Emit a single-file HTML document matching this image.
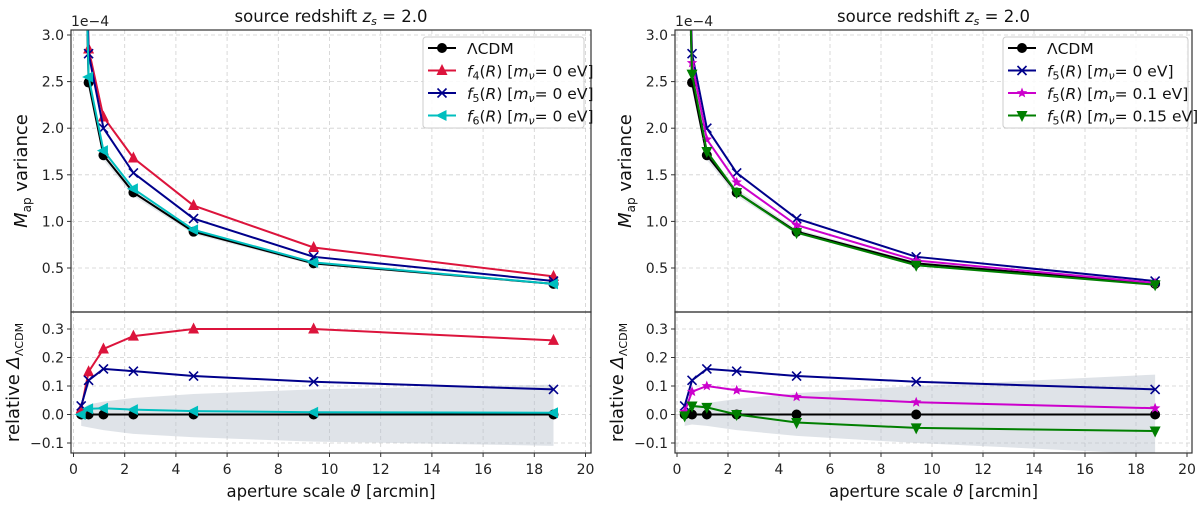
<!DOCTYPE html>
<html><head><meta charset="utf-8"><style>
body{margin:0;background:#fff;}
svg{font-family:"DejaVu Sans","Liberation Sans",sans-serif;}
</style></head><body>
<svg id="fig" width="1200" height="503" xmlns="http://www.w3.org/2000/svg"></svg>
<script>
const theta = [0.3, 0.59, 1.17, 2.34, 4.69, 9.38, 18.75];
// top panels (x1e-4)
const lcdmVar = [6.0, 2.49, 1.71, 1.31, 0.89, 0.55, 0.33];
const f4Var = [6.1, 2.85, 2.12, 1.68, 1.17, 0.72, 0.41];
const f5Var = [6.2, 2.80, 2.00, 1.52, 1.03, 0.62, 0.36];
const f6Var = [6.0, 2.55, 1.76, 1.35, 0.91, 0.56, 0.33];
const f5nu01Var = [6.1, 2.70, 1.88, 1.42, 0.96, 0.58, 0.34];
const f5nu015Var = [6.0, 2.58, 1.75, 1.31, 0.88, 0.53, 0.32];
// relative differences
const lcdmRel = [0, 0, 0, 0, 0, 0, 0];
const f4Rel = [0.02, 0.15, 0.23, 0.275, 0.30, 0.30, 0.26];
const f5Rel = [0.03, 0.12, 0.16, 0.152, 0.135, 0.115, 0.088];
const f6Rel = [0.0, 0.02, 0.022, 0.017, 0.012, 0.008, 0.006];
const f5nu01Rel = [0.01, 0.08, 0.10, 0.085, 0.062, 0.043, 0.022];
const f5nu015Rel = [-0.005, 0.03, 0.025, 0.0, -0.028, -0.047, -0.058];
// bands
const bandLeftUp = [0.02, 0.035, 0.045, 0.058, 0.072, 0.088, 0.105];
const bandLeftLo = [-0.04, -0.045, -0.055, -0.068, -0.08, -0.095, -0.11];
const bandRightUp = [0.0, 0.03, 0.04, 0.055, 0.075, 0.1, 0.14];
const bandRightLo = [-0.04, -0.035, -0.04, -0.055, -0.075, -0.1, -0.14];
const bandTopRel = 0.03;
const xTicks = [0, 2, 4, 6, 8, 10, 12, 14, 16, 18, 20];
const yTopTicks = [0.5, 1.0, 1.5, 2.0, 2.5, 3.0];
const yBotTicks = [-0.1, 0.0, 0.1, 0.2, 0.3];

const NS = "http://www.w3.org/2000/svg";
const svg = document.getElementById('fig');
function mk(tag, attrs, parent) {
  const e = document.createElementNS(NS, tag);
  for (const k in attrs) e.setAttribute(k, attrs[k]);
  (parent || svg).appendChild(e);
  return e;
}
const defs = mk('defs', {});

function marker(g, type, cx, cy, color) {
  let e;
  const s = 5.5;
  if (type === 'o') e = mk('circle', {cx, cy, r: 5, fill: color}, g);
  else if (type === '^') e = mk('polygon', {points: `${cx},${cy-s-1} ${cx-s},${cy+s-1} ${cx+s},${cy+s-1}`, fill: color}, g);
  else if (type === 'v') e = mk('polygon', {points: `${cx},${cy+s+1} ${cx-s},${cy-s+1} ${cx+s},${cy-s+1}`, fill: color}, g);
  else if (type === '<') e = mk('polygon', {points: `${cx-s-1},${cy} ${cx+s-1},${cy-s} ${cx+s-1},${cy+s}`, fill: color}, g);
  else if (type === 'x') e = mk('path', {d: `M${cx-4.5},${cy-4.5}L${cx+4.5},${cy+4.5}M${cx-4.5},${cy+4.5}L${cx+4.5},${cy-4.5}`, stroke: color, 'stroke-width': 1.6, fill: 'none'}, g);
  else if (type === '*') {
    let p = [];
    for (let i = 0; i < 10; i++) { const r = i % 2 ? 2.4 : 5.5; const a = -Math.PI/2 + i*Math.PI/5; p.push((cx + r*Math.cos(a)).toFixed(1) + ',' + (cy + r*Math.sin(a)).toFixed(1)); }
    e = mk('polygon', {points: p.join(' '), fill: color}, g);
  }
  
  
}

function panel(id, L, R, x0px, xUnit, series, relSeries, bandUp, bandLo, legendX, legendW) {
  const top = 30, mid = 312, bot = 453;
  const X = v => x0px + v * xUnit;
  const Yt = v => 35 + (3.0 - v) * 93.2;
  const Yb = v => 414.5 - v * 285;
  const g = mk('g', {});
  
  
  const ct = mk('clipPath', {id: id + 'ct'}, defs);
  mk('rect', {x: L, y: top, width: R - L, height: mid - top}, ct);
  const cb = mk('clipPath', {id: id + 'cb'}, defs);
  mk('rect', {x: L, y: mid, width: R - L, height: bot - mid}, cb);
  const grid = mk('g', {stroke: '#d0d0d0', 'stroke-dasharray': '4,3', 'stroke-width': 0.8}, g);
  
  
  xTicks.forEach(t => { mk('line', {x1: X(t), x2: X(t), y1: top, y2: bot}, grid); });
  yTopTicks.forEach(t => { mk('line', {x1: L, x2: R, y1: Yt(t), y2: Yt(t)}, grid); });
  yBotTicks.forEach(t => { mk('line', {x1: L, x2: R, y1: Yb(t), y2: Yb(t)}, grid); });
  const gt = mk('g', {'clip-path': `url(#${id}ct)`}, g);
  const lc = series[0].v;
  let bp = theta.map((t, i) => X(t) + ',' + Yt(lc[i] * (1 + bandTopRel))).join(' ') + ' ' +
    theta.map((t, i) => X(t) + ',' + Yt(lc[i] * (1 - bandTopRel))).reverse().join(' ');
  const bt = mk('polygon', {points: bp, fill: '#b8c2cc', opacity: 0.4}, gt);
  
  
  series.forEach(s => {
    const pl = mk('polyline', {points: theta.map((t, i) => X(t) + ',' + Yt(s.v[i])).join(' '), fill: 'none', stroke: s.c, 'stroke-width': 2}, gt);
    
    
    theta.forEach((t, i) => marker(gt, s.m, X(t), Yt(s.v[i]), s.c));
  });
  const gb = mk('g', {'clip-path': `url(#${id}cb)`}, g);
  bp = theta.map((t, i) => X(t) + ',' + Yb(bandUp[i])).join(' ') + ' ' + theta.map((t, i) => X(t) + ',' + Yb(bandLo[i])).reverse().join(' ');
  const bb = mk('polygon', {points: bp, fill: '#b8c2cc', opacity: 0.45}, gb);
  
  
  relSeries.forEach(s => {
    const pl = mk('polyline', {points: theta.map((t, i) => X(t) + ',' + Yb(s.v[i])).join(' '), fill: 'none', stroke: s.c, 'stroke-width': 2}, gb);
    
    
    theta.forEach((t, i) => marker(gb, s.m, X(t), Yb(s.v[i]), s.c));
  });
  mk('rect', {x: L, y: top, width: R - L, height: mid - top, fill: 'none', stroke: '#333', 'stroke-width': 1.2}, g);
  mk('rect', {x: L, y: mid, width: R - L, height: bot - mid, fill: 'none', stroke: '#333', 'stroke-width': 1.2}, g);
  const tg = mk('g', {'font-size': 14, fill: '#222'}, g);
  xTicks.forEach(t => {
    mk('line', {x1: X(t), x2: X(t), y1: bot, y2: bot + 4, stroke: '#333'}, tg);
    const tx = mk('text', {x: X(t), y: bot + 21, 'text-anchor': 'middle'}, tg); tx.textContent = t;
     
  });
  yTopTicks.forEach(t => {
    mk('line', {x1: L - 4, x2: L, y1: Yt(t), y2: Yt(t), stroke: '#333'}, tg);
    const tx = mk('text', {x: L - 7, y: Yt(t) + 5, 'text-anchor': 'end'}, tg); tx.textContent = t.toFixed(1);
     
  });
  yBotTicks.forEach(t => {
    mk('line', {x1: L - 4, x2: L, y1: Yb(t), y2: Yb(t), stroke: '#333'}, tg);
    const tx = mk('text', {x: L - 7, y: Yb(t) + 5, 'text-anchor': 'end'}, tg); tx.textContent = (t < 0 ? '\u2212' : '') + Math.abs(t).toFixed(1);
     
  });
  const off = mk('text', {x: L, y: 26, 'font-size': 14, fill: '#222'}, g); off.textContent = '1e\u22124';
   
  const ti = mk('text', {x: (L + R) / 2, y: 22, 'font-size': 16.5, 'text-anchor': 'middle', fill: '#111'}, g);
  ti.innerHTML = 'source redshift <tspan font-style="italic">z</tspan><tspan font-style="italic" font-size="11" dy="3">s</tspan><tspan dy="-3"> = 2.0</tspan>';
   
  const xl = mk('text', {x: (L + R) / 2, y: 497, 'font-size': 16.5, 'text-anchor': 'middle', fill: '#111'}, g);
  xl.innerHTML = 'aperture scale <tspan font-style="italic">ϑ</tspan> [arcmin]';
   
  const yl = mk('text', {transform: `translate(${L - 44},${(top + mid) / 2}) rotate(-90)`, 'font-size': 18, 'text-anchor': 'middle', fill: '#111'}, g);
  yl.innerHTML = '<tspan font-style="italic">M</tspan><tspan font-size="12" dy="4">ap</tspan><tspan dy="-4"> variance</tspan>';
   
  const yl2 = mk('text', {transform: `translate(${L - 52},${(mid + bot) / 2}) rotate(-90)`, 'font-size': 18, 'text-anchor': 'middle', fill: '#111'}, g);
  yl2.innerHTML = 'relative <tspan font-style="italic">Δ</tspan><tspan font-size="11" dy="4">ΛCDM</tspan>';
   
  const lg = mk('g', {}, g);
  
  
  mk('rect', {x: legendX, y: 37, width: legendW, height: 91, rx: 3, fill: 'rgba(255,255,255,0.85)', stroke: '#ccc'}, lg);
  series.forEach((s, i) => {
    const y = 48 + i * 22.5;
    const e = mk('g', {}, lg);
    
    
    mk('line', {x1: legendX + 5, x2: legendX + 33, y1: y, y2: y, stroke: s.c, 'stroke-width': 2}, e);
    marker(e, s.m, legendX + 19, y, s.c);
    const t = mk('text', {x: legendX + 44, y: y + 6, 'font-size': 15.5, fill: '#111'}, e);
    t.innerHTML = s.label;
  });
}
const lab = (k, m) => `<tspan font-style="italic">f</tspan><tspan font-size="11" dy="3">${k}</tspan><tspan dy="-3">(<tspan font-style="italic">R</tspan>) [<tspan font-style="italic">m</tspan></tspan><tspan font-size="11" dy="3" font-style="italic">ν</tspan><tspan dy="-3">=${m}eV]</tspan>`;
const C = {k: '#000000', r: '#dc143c', b: '#00008b', c: '#00bfbf', m: '#cc00cc', g: '#007f00'};
panel('left', 71, 591, 73.5, 25.6,
  [{n: 'lcdm', v: lcdmVar, c: C.k, m: 'o', label: 'ΛCDM'},
   {n: 'f4', v: f4Var, c: C.r, m: '^', label: lab(4, ' 0 ')},
   {n: 'f5', v: f5Var, c: C.b, m: 'x', label: lab(5, ' 0 ')},
   {n: 'f6', v: f6Var, c: C.c, m: '<', label: lab(6, ' 0 ')}],
  [{n: 'lcdm', v: lcdmRel, c: C.k, m: 'o'}, {n: 'f4', v: f4Rel, c: C.r, m: '^'},
   {n: 'f5', v: f5Rel, c: C.b, m: 'x'}, {n: 'f6', v: f6Rel, c: C.c, m: '<'}],
  bandLeftUp, bandLeftLo, 423, 161);
panel('right', 675, 1192, 677, 25.5,
  [{n: 'lcdm', v: lcdmVar, c: C.k, m: 'o', label: 'ΛCDM'},
   {n: 'f5-nu0', v: f5Var, c: C.b, m: 'x', label: lab(5, ' 0 ')},
   {n: 'f5-nu01', v: f5nu01Var, c: C.m, m: '*', label: lab(5, ' 0.1 ')},
   {n: 'f5-nu015', v: f5nu015Var, c: C.g, m: 'v', label: lab(5, ' 0.15 ')}],
  [{n: 'lcdm', v: lcdmRel, c: C.k, m: 'o'}, {n: 'f5-nu0', v: f5Rel, c: C.b, m: 'x'},
   {n: 'f5-nu01', v: f5nu01Rel, c: C.m, m: '*'}, {n: 'f5-nu015', v: f5nu015Rel, c: C.g, m: 'v'}],
  bandRightUp, bandRightLo, 1003, 185);
</script>
</body></html>
